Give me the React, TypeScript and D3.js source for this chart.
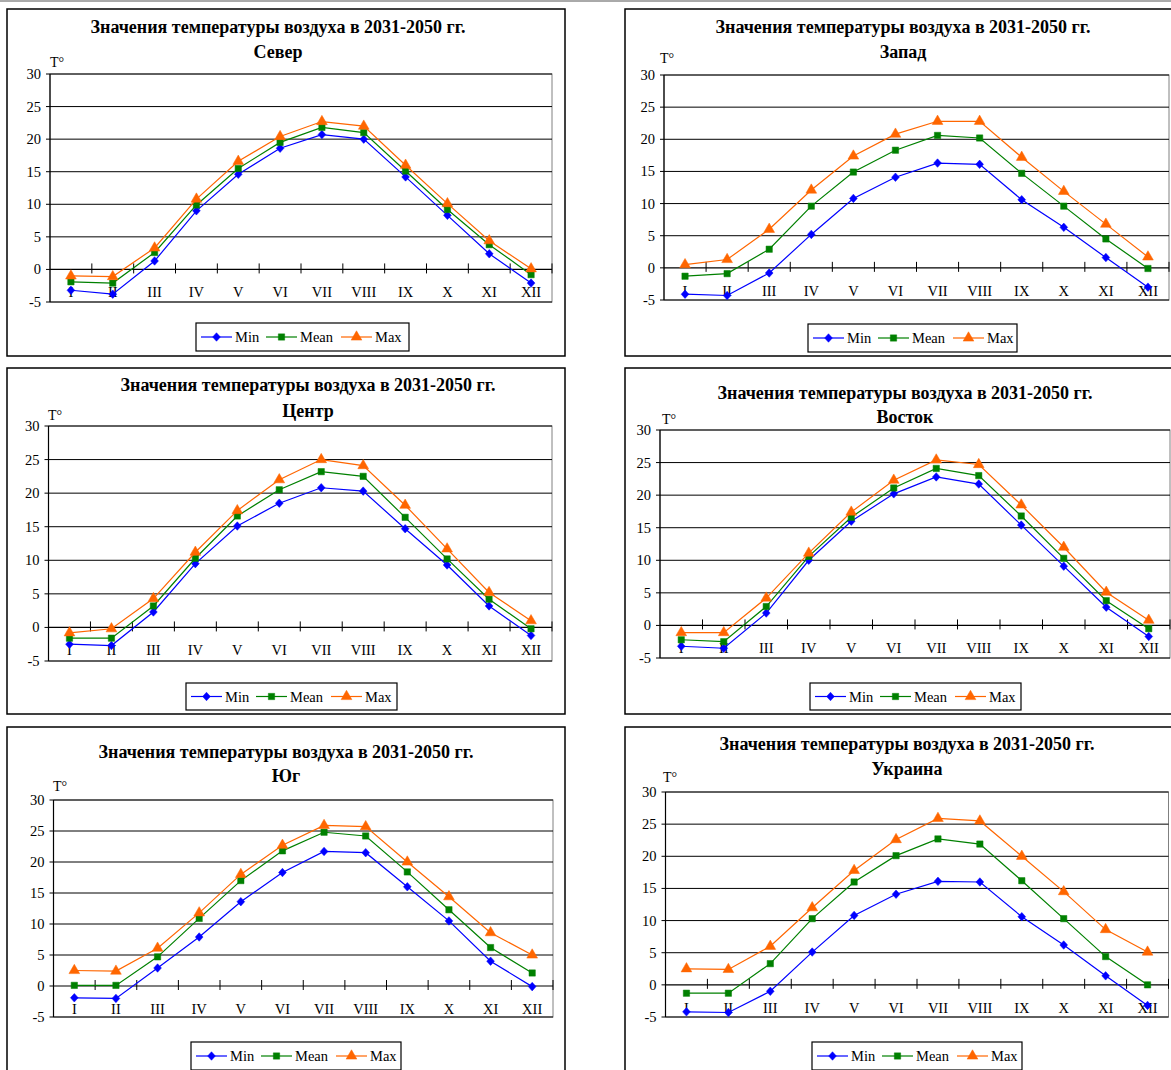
import React from 'react';
import * as d3 from 'd3';

const months = ['I', 'II', 'III', 'IV', 'V', 'VI', 'VII', 'VIII', 'IX', 'X', 'XI', 'XII'];
const yTicks = [-5, 0, 5, 10, 15, 20, 25, 30];
const titleLine = 'Значения температуры воздуха в 2031-2050 гг.';
const seriesNames = ['Min', 'Mean', 'Max'];

const severMin = [-3.2, -3.8, 1.3, 9.0, 14.6, 18.6, 20.7, 20.0, 14.2, 8.3, 2.4, -2.1];
const severMean = [-1.9, -2.1, 2.6, 9.9, 15.5, 19.5, 21.8, 21.0, 15.1, 9.2, 3.8, -0.8];
const severMax = [-1.0, -1.1, 3.3, 10.8, 16.6, 20.4, 22.7, 22.0, 16.0, 10.1, 4.4, 0.1];

const zapadMin = [-4.1, -4.3, -0.8, 5.2, 10.8, 14.1, 16.3, 16.1, 10.6, 6.3, 1.6, -3.0];
const zapadMean = [-1.3, -0.9, 2.9, 9.6, 14.9, 18.3, 20.6, 20.2, 14.7, 9.6, 4.5, -0.1];
const zapadMax = [0.5, 1.3, 6.0, 12.1, 17.4, 20.8, 22.8, 22.8, 17.2, 11.9, 6.8, 1.7];

const centrMin = [-2.5, -2.7, 2.3, 9.5, 15.1, 18.5, 20.8, 20.3, 14.7, 9.3, 3.2, -1.2];
const centrMean = [-1.6, -1.6, 3.2, 10.3, 16.6, 20.5, 23.2, 22.5, 16.4, 10.2, 4.2, -0.2];
const centrMax = [-0.8, -0.2, 4.3, 11.2, 17.4, 22.0, 25.0, 24.1, 18.2, 11.7, 5.2, 1.0];

const vostokMin = [-3.2, -3.5, 1.9, 10.0, 16.0, 20.2, 22.8, 21.7, 15.4, 9.1, 2.8, -1.7];
const vostokMean = [-2.2, -2.5, 2.9, 10.6, 16.6, 21.1, 24.1, 23.0, 16.8, 10.3, 3.8, -0.5];
const vostokMax = [-1.1, -1.1, 4.2, 11.1, 17.4, 22.3, 25.4, 24.7, 18.5, 12.0, 5.1, 0.8];

const yugMin = [-1.9, -2.0, 2.9, 7.9, 13.6, 18.3, 21.7, 21.5, 16.0, 10.5, 4.0, -0.1];
const yugMean = [0.1, 0.1, 4.7, 10.9, 17.0, 21.8, 24.8, 24.2, 18.4, 12.3, 6.2, 2.1];
const yugMax = [2.5, 2.4, 6.1, 11.8, 18.0, 22.7, 25.9, 25.7, 20.0, 14.4, 8.6, 5.0];

const ukrMin = [-4.2, -4.3, -1.0, 5.1, 10.8, 14.1, 16.1, 16.0, 10.6, 6.2, 1.4, -3.2];
const ukrMean = [-1.3, -1.3, 3.3, 10.3, 16.0, 20.1, 22.7, 21.9, 16.2, 10.3, 4.4, 0.0];
const ukrMax = [2.5, 2.4, 6.0, 12.0, 17.8, 22.6, 25.9, 25.5, 20.0, 14.5, 8.6, 5.1];

const regions = ['Север', 'Запад', 'Центр', 'Восток', 'Юг', 'Украина'];
const regionSeries = [
  [severMin, severMean, severMax],
  [zapadMin, zapadMean, zapadMax],
  [centrMin, centrMean, centrMax],
  [vostokMin, vostokMean, vostokMax],
  [yugMin, yugMean, yugMax],
  [ukrMin, ukrMean, ukrMax],
];

// layout (positions only)
const layouts = [
  { frame: [7, 9, 565, 356], plot: [50, 74, 552, 302], tx: 278, ty: [27, 52], leg: [196, 323, 213, 28], tl: [50, 62] },
  { frame: [625, 9, 1190, 356], plot: [664, 75, 1169, 300], tx: 903, ty: [27, 52], leg: [808, 324, 209, 28], tl: [660, 58] },
  { frame: [7, 368, 565, 714], plot: [48.5, 426, 552, 661], tx: 308, ty: [385, 411], leg: [186, 683, 211, 27], tl: [48, 415] },
  { frame: [625, 368, 1190, 714], plot: [660, 430, 1170, 658], tx: 905, ty: [393, 417], leg: [810, 683, 211, 27], tl: [662, 419] },
  { frame: [7, 727, 565, 1090], plot: [53.5, 800, 553, 1017], tx: 286, ty: [752, 776], leg: [191, 1042, 210, 28], tl: [53, 786] },
  { frame: [625, 727, 1190, 1090], plot: [665.5, 792, 1168.5, 1017], tx: 907, ty: [744, 769], leg: [812, 1042, 210, 28], tl: [663, 777] },
];

const colors = ['#0000FF', '#008000', '#FF6600'];
const diamond: d3.SymbolType = {
  draw(ctx: any, size: number) {
    const r = Math.sqrt(size / 2);
    ctx.moveTo(0, -r * 1.1);
    ctx.lineTo(r, 0);
    ctx.lineTo(0, r * 1.1);
    ctx.lineTo(-r, 0);
    ctx.closePath();
  },
};
const symbols = [diamond, d3.symbolSquare, d3.symbolTriangle];
const symSizes = [30, 40, 50];
const FONT = '"Liberation Serif", "Times New Roman", serif';

function Marker({ i, x, y }: { i: number; x: number; y: number }) {
  const p = d3.symbol().type(symbols[i]).size(symSizes[i])() as string;
  return <path d={p} transform={`translate(${x},${y})`} fill={colors[i]} stroke={colors[i]} strokeWidth={0.5} />;
}

function Panel({ idx }: { idx: number }) {
  const L = layouts[idx];
  const [fx0, fy0, fx1, fy1] = L.frame;
  const [px0, py0, px1, py1] = L.plot;
  const x = d3.scaleBand<string>().domain(months).range([px0, px1]).padding(0);
  const y = d3.scaleLinear().domain([-5, 30]).range([py1, py0]);
  const cx = (m: string) => (x(m) as number) + x.bandwidth() / 2;
  const line = d3
    .line<number>()
    .x((_, i) => cx(months[i]))
    .y((d) => y(d));
  const y0 = y(0);
  const [lx, ly, lw, lh] = L.leg;
  const legItems = [
    { x: lx + 5, tx: lx + 39 },
    { x: lx + 70, tx: lx + 104 },
    { x: lx + 145, tx: lx + 179 },
  ];
  return (
    <g>
      <rect x={fx0} y={fy0} width={fx1 - fx0} height={fy1 - fy0} fill="#fff" stroke="#000" strokeWidth={1.5} />
      <text x={L.tx} y={L.ty[0]} textAnchor="middle" dominantBaseline="central" fontFamily={FONT} fontWeight="bold" fontSize={18}>
        {titleLine}
      </text>
      <text x={L.tx} y={L.ty[1]} textAnchor="middle" dominantBaseline="central" fontFamily={FONT} fontWeight="bold" fontSize={18}>
        {regions[idx]}
      </text>
      <text x={L.tl[0]} y={L.tl[1]} dominantBaseline="central" fontFamily={FONT} fontSize={14}>
        T°
      </text>
      {/* plot border */}
      <rect x={px0} y={py0} width={px1 - px0} height={py1 - py0} fill="#fff" stroke="#808080" strokeWidth={1} />
      {/* gridlines */}
      {yTicks
        .filter((t) => t !== 0)
        .map((t) => (
          <line key={t} x1={px0} x2={px1} y1={y(t)} y2={y(t)} stroke="#000" strokeWidth={1} />
        ))}
      {/* y axis */}
      <line x1={px0} x2={px0} y1={py0} y2={py1} stroke="#000" strokeWidth={1.2} />
      {yTicks.map((t) => (
        <g key={'yt' + t}>
          <line x1={px0 - 4} x2={px0} y1={y(t)} y2={y(t)} stroke="#000" />
          <text x={px0 - 9} y={y(t)} textAnchor="end" dominantBaseline="central" fontFamily={FONT} fontSize={14.5}>
            {t}
          </text>
        </g>
      ))}
      {/* category axis at 0 */}
      <line x1={px0} x2={px1} y1={y0} y2={y0} stroke="#000" strokeWidth={1.2} />
      {d3.range(1, 13).map((k) => (
        <line key={'xt' + k} x1={px0 + k * x.bandwidth()} x2={px0 + k * x.bandwidth()} y1={y0 - 6} y2={y0 + 4} stroke="#000" />
      ))}
      {months.map((m) => (
        <text key={m} x={cx(m)} y={y0 + 23} textAnchor="middle" dominantBaseline="central" fontFamily={FONT} fontSize={14.5}>
          {m}
        </text>
      ))}
      {/* series */}
      {regionSeries[idx].map((s, i) => (
        <g key={'s' + i}>
          <path d={line(s) as string} fill="none" stroke={colors[i]} strokeWidth={1.2} />
          {s.map((v, j) => (
            <Marker key={j} i={i} x={cx(months[j])} y={y(v)} />
          ))}
        </g>
      ))}
      {/* legend */}
      <rect x={lx} y={ly} width={lw} height={lh} fill="#fff" stroke="#000" strokeWidth={1.2} />
      {legItems.map((it, i) => (
        <g key={'l' + i}>
          <line x1={it.x} x2={it.x + 31} y1={ly + lh / 2} y2={ly + lh / 2} stroke={colors[i]} strokeWidth={1.2} />
          <Marker i={i} x={it.x + 15.5} y={ly + lh / 2} />
          <text x={it.tx} y={ly + lh / 2} dominantBaseline="central" fontFamily={FONT} fontSize={14.5}>
            {seriesNames[i]}
          </text>
        </g>
      ))}
    </g>
  );
}

export default function App() {
  return (
    <svg width={1171} height={1070} style={{ position: 'absolute', left: 0, top: 0, background: '#fff' }}>
      <rect x={0} y={0} width={1171} height={1070} fill="#fff" />
      <line x1={0} x2={1171} y1={1} y2={1} stroke="#555" strokeWidth={1} />
      {layouts.map((_, i) => (
        <Panel key={i} idx={i} />
      ))}
    </svg>
  );
}
